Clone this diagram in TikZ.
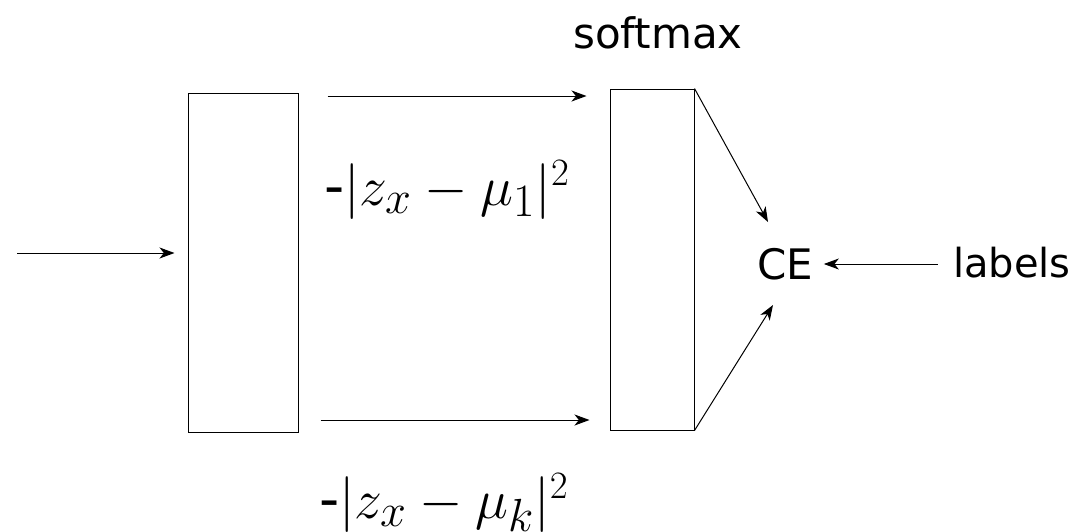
\documentclass[tikz,border=0pt]{standalone}
\usepackage{graphicx}
\usepackage{fontspec}
\newfontfamily\dv{DejaVu Sans}
\DeclareMathSizes{25}{25}{21}{17.5}
\usetikzlibrary{arrows.meta,calc}
\newcommand{\bigmath}[1]{\scalebox{1.12}{#1}}
\begin{document}
\begin{tikzpicture}[x=0.5pt,y=-0.5pt,
  box/.style={draw=black,line width=0.5pt,minimum width=#1,inner sep=0pt},
  arr/.style={line width=0.5pt,-{Stealth[length=7.5pt,width=5.5pt,inset=2.2pt]}},
  lbl/.style={font=\dv\fontsize{21}{25}\selectfont,inner sep=0pt},
  mth/.style={font=\fontsize{25}{30}\selectfont,inner sep=0pt}]
\useasboundingbox (0,0) rectangle (1081,531);
\node[box=55pt,minimum height=169.5pt] (lb) at (243,262.5) {};
\node[box=42pt,minimum height=170.5pt] (sm) at (652,259.5) {};
\node[lbl] (soft) at (658,33) {softmax};
\node[lbl] (ce) at (785,264) {CE};
\node[lbl,font=\dv\fontsize{20}{24}\selectfont] (lab) at (1012,263) {labels};
\node[mth] (m1) at (447,190) {\bigmath{{\dv -}$|z_x - \mu_1|^{\scriptscriptstyle 2}$}};
\node[mth] (mk) at (444,503) {\bigmath{{\dv -}$|z_x - \mu_k|^{\scriptscriptstyle 2}$}};
\coordinate (in) at (17,253);
\draw[arr,shorten >=6.5pt] (in) -- (in -| lb.west);
\draw[arr,shorten <=14.5pt,shorten >=11.5pt] (lb.east |- 0,96) -- (sm.west |- 0,96);
\draw[arr,shorten <=11pt,shorten >=10pt] (lb.east |- 0,420) -- (sm.west |- 0,420);
\draw[arr] (sm.north east) -- ($(ce)+(-17,-42)$);
\draw[arr] (sm.south east) -- ($(ce)+(-12,41)$);
\draw[arr,shorten <=7.5pt,shorten >=5.25pt] (ce.east -| lab.west) -- (ce.east);
\end{tikzpicture}
\end{document}
